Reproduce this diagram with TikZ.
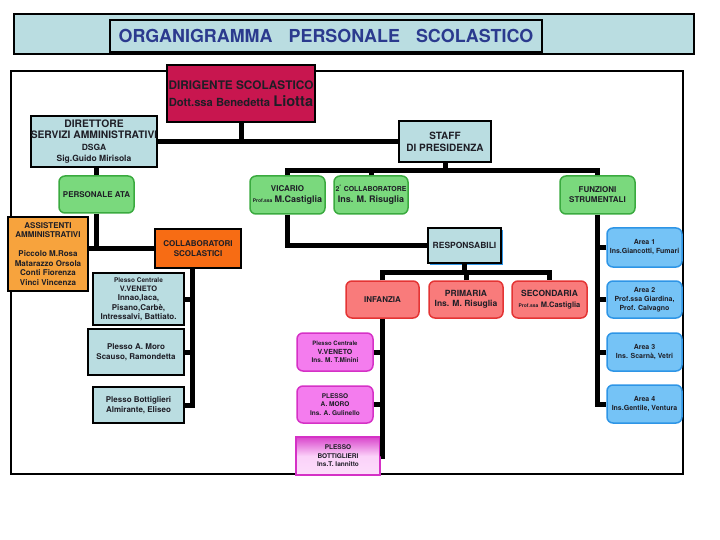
\documentclass[tikz,border=0pt]{standalone}
\usepackage{fontspec}
\setmainfont{TeX Gyre Heros}
\usetikzlibrary{calc,shadows}
\definecolor{OrgText}{HTML}{1E1E26}
\definecolor{OrgTitle}{HTML}{2B3A8E}
\definecolor{OrgSky}{HTML}{BADDE1}
\definecolor{OrgHead}{HTML}{C8164F}
\definecolor{OrgGreen}{HTML}{7AD97D}
\definecolor{OrgGreenDark}{HTML}{3AAA3F}
\definecolor{OrgAmber}{HTML}{F7A33D}
\definecolor{OrgOrange}{HTML}{F76C14}
\definecolor{OrgRed}{HTML}{F97B7B}
\definecolor{OrgRedDark}{HTML}{E43434}
\definecolor{OrgPink}{HTML}{F47CEE}
\definecolor{OrgPinkDark}{HTML}{D531C6}
\definecolor{OrgBlue}{HTML}{75C3F6}
\definecolor{OrgBlueDark}{HTML}{2E95E6}
\newcommand{\orgsize}[2]{\fontsize{#1}{#2}\selectfont}

\begin{document}
\begin{tikzpicture}[
  x=1pt,y=-1pt,
  link/.style={draw=black,line width=5pt},
  card/.style={draw=black,line width=1.8pt,inner sep=0pt,align=center,
    text=OrgText,font=\bfseries\orgsize{8}{9.4}},
  sky/.style={card,fill=OrgSky},
  head/.style={card,fill=OrgHead,font=\bfseries\orgsize{11.8}{17}},
  soft/.style={card,draw=OrgGreenDark,fill=OrgGreen,rounded corners=6pt,
    line width=1.5pt},
  school/.style={card,draw=OrgRedDark,fill=OrgRed,rounded corners=6pt,
    line width=1.5pt,font=\bfseries\orgsize{8.5}{10.5}},
  plex/.style={card,draw=OrgPinkDark,fill=OrgPink,rounded corners=6pt,
    line width=1.5pt,font=\bfseries\orgsize{6.5}{8.5}},
  areabox/.style={card,draw=OrgBlueDark,fill=OrgBlue,rounded corners=6pt,
    line width=1.5pt,font=\bfseries\orgsize{7}{9},
    minimum width=75pt}
]
\useasboundingbox (0,0) rectangle (720,540);

% Title band and the frame round the chart.
\node[sky,line width=2pt,minimum width=680pt,minimum height=40pt] (bar) at (354,34) {};
\node[sky,line width=2pt,minimum width=432pt,minimum height=32pt,text=OrgTitle,
  font=\bfseries\orgsize{17.9}{20}] (title) at (326,36)
  {ORGANIGRAMMA\hspace{0.9em}PERSONALE\hspace{0.9em}SCOLASTICO};
\draw[line width=1.5pt] (11,71) rectangle (683,474);

% Head of school, then the two offices below it.
\node[head,minimum width=148pt,minimum height=57pt] (dirig) at (241,93.5)
  {DIRIGENTE SCOLASTICO\\{\orgsize{11.2}{17}Dott.ssa Benedetta} {\orgsize{14.6}{17}Liotta}};
\node[sky,minimum width=126pt,minimum height=51pt,font=\bfseries\orgsize{10.3}{11.5}]
  (dsga) at (94,141.5)
  {DIRETTORE\\SERVIZI AMMINISTRATIVI\\{\orgsize{8.5}{11.5}DSGA}\\
   {\orgsize{8.5}{11.5}Sig.Guido Mirisola}};
\node[sky,minimum width=92pt,minimum height=41pt,font=\bfseries\orgsize{10}{12}]
  (staff) at (445,141.5) {STAFF\\DI PRESIDENZA};

% Administrative side.
\node[soft,minimum width=75pt,minimum height=37pt] (ata) at (96.5,194.5) {PERSONALE ATA};
\node[card,fill=OrgAmber,minimum width=80pt,minimum height=74pt,
  font=\bfseries\orgsize{8}{9.5}] (assist) at (48,254)
  {ASSISTENTI\\AMMINISTRATIVI\\[9.5pt]Piccolo M.Rosa\\Matarazzo Orsola\\
   Conti Fiorenza\\Vinci Vincenza};
\node[card,fill=OrgOrange,minimum width=86pt,minimum height=39pt,
  font=\bfseries\orgsize{8}{10}] (colsc) at (198,248.5) {COLLABORATORI\\SCOLASTICI};
\node[sky,minimum width=91pt,minimum height=52pt,font=\bfseries\orgsize{8}{9.3}]
  (pcv) at (138.5,299)
  {{\orgsize{6.5}{9.3}Plesso Centrale}\\{\orgsize{7.5}{9.3}V.VENETO}\\Innao,Iaca,\\
   Pisano,Carbè,\\Intressalvi, Battiato.};
\node[sky,minimum width=96pt,minimum height=46pt,font=\bfseries\orgsize{8}{10}]
  (pam) at (136,352) {Plesso A. Moro\\Scauso, Ramondetta};
\node[sky,minimum width=91pt,minimum height=36pt,font=\bfseries\orgsize{8}{10}]
  (pbo) at (138.5,405) {Plesso Bottiglieri\\Almirante, Eliseo};

% Staff side.
\node[soft,minimum width=75pt,minimum height=38pt,font=\bfseries\orgsize{8}{11}]
  (vic) at (287.5,195)
  {VICARIO\\{\orgsize{5}{11}Prof.ssa} {\orgsize{9}{11}M.Castiglia}};
\node[soft,minimum width=74pt,minimum height=38pt,font=\bfseries\orgsize{6.9}{11}]
  (coll2) at (371,195)
  {2\textsuperscript{°} COLLABORATORE\\{\orgsize{9}{11}Ins. M. Risuglia}};
\node[soft,minimum width=75pt,minimum height=38pt,font=\bfseries\orgsize{8}{10}]
  (funz) at (597.5,195) {FUNZIONI\\STRUMENTALI};

\node[sky,minimum width=73pt,minimum height=35pt,font=\bfseries\orgsize{8.5}{10},
  drop shadow={shadow xshift=1.6pt,shadow yshift=-1.6pt,fill=OrgBlueDark,opacity=1}]
  (resp) at (464.5,245.5) {RESPONSABILI};
\node[school,minimum width=73pt,minimum height=37pt,font=\bfseries\orgsize{8}{10}]
  (inf) at (382.5,299.5) {INFANZIA};
\node[school,minimum width=74pt,minimum height=37pt] (prim) at (466,299.5)
  {PRIMARIA\\Ins. M. Risuglia};
\node[school,minimum width=75pt,minimum height=37pt] (sec) at (549.5,299.5)
  {SECONDARIA\\{\orgsize{5}{10.5}Prof.ssa} {\orgsize{7.5}{10.5}M.Castiglia}};

\node[plex,minimum width=76pt,minimum height=38pt] (mpc) at (335,352)
  {{\orgsize{6}{8.5}Plesso Centrale}\\{\orgsize{7}{8.5}V.VENETO}\\Ins. M. T.Minini};
\node[plex,minimum width=76pt,minimum height=37pt] (mam) at (335,404.5)
  {PLESSO\\A. MORO\\Ins. A. Gulinello};
\node[card,draw=OrgPinkDark,line width=1.5pt,font=\bfseries\orgsize{6.5}{8.5},
  top color=OrgPinkDark!90,bottom color=white!75!OrgPink,middle color=OrgPink!35,
  minimum width=84pt,minimum height=38pt] (mbot) at (338,456)
  {PLESSO\\BOTTIGLIERI\\Ins.T. Iannitto};

\node[areabox,minimum height=39pt] (ar1) at (644.5,247.5) {Area 1\\Ins.Giancotti, Fumari};
\node[areabox,minimum height=37pt] (ar2) at (644.5,299.5)
  {Area 2\\Prof.ssa Giardina,\\Prof. Calvagno};
\node[areabox,minimum height=38pt] (ar3) at (644.5,352) {Area 3\\Ins. Scarnà, Vetri};
\node[areabox,minimum height=38pt] (ar4) at (644.5,404) {Area 4\\Ins.Gentile, Ventura};

% Connectors: head to offices.
\draw[link] (dirig.south) -- (dirig.south |- dsga.east);
\draw[link] (dsga.east) -- (staff.west);

% Connectors: administrative side.
\draw[link] (ata.north) -- (ata.north |- dsga.south);
\draw[link] (ata.south) |- (colsc.west);
\draw[link] (assist.east |- colsc.west) -- (colsc.west);
\coordinate (cspine) at ([xshift=-6pt]colsc.south);
\draw[link] (cspine) |- (pbo.east);
\foreach \n in {pcv,pam}
  \draw[link] (\n.east) -- (\n.east -| cspine);

% Connectors: staff side.
\coordinate (sbus) at ([yshift=-8pt]staff.south);
\draw[link] (staff.south) -- (sbus);
\draw[link] (vic.north) |- (sbus) -| (funz.north);
\draw[link] (coll2.north) -- (coll2.north |- sbus);
\draw[link] (vic.south) |- (resp.west);
\coordinate (rbus) at ([yshift=-9pt]resp.south);
\draw[link] (resp.south) -- (rbus);
\draw[link] (inf.north) |- (rbus) -| (sec.north);
\draw[link] (prim.north) -- (prim.north |- rbus);
\draw[link] (inf.south) |- (mbot.east);
\foreach \n in {mpc,mam}
  \draw[link] (\n.east) -- (\n.east -| inf.south);
\draw[link] (funz.south) |- (ar4.west);
\foreach \n in {ar1,ar2,ar3}
  \draw[link] (\n.west) -- (\n.west -| funz.south);

\end{tikzpicture}
\end{document}
